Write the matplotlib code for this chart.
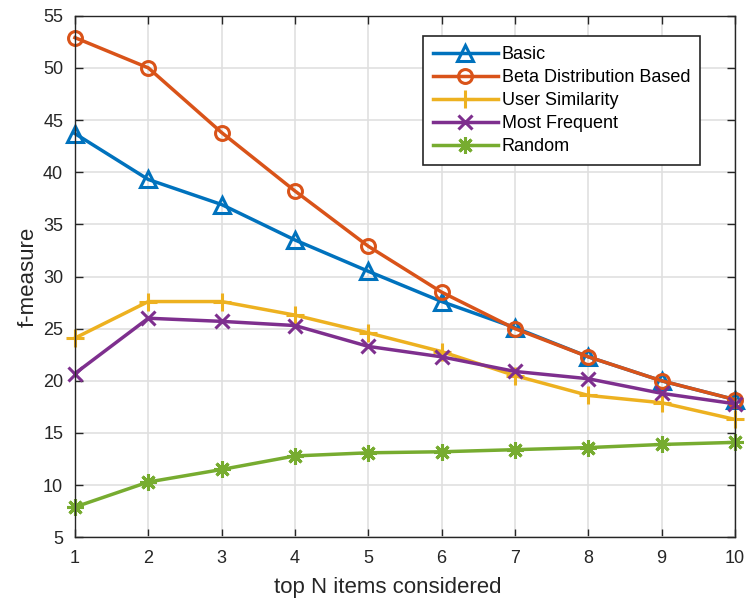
import matplotlib.pyplot as plt

plt.rcParams['font.family'] = ['Liberation Sans', 'DejaVu Sans']

top_n = [1, 2, 3, 4, 5, 6, 7, 8, 9, 10]
basic = [43.7, 39.3, 36.9, 33.5, 30.5, 27.6, 25.1, 22.3, 20.0, 18.2]
beta = [52.9, 50.0, 43.8, 38.2, 32.9, 28.5, 25.0, 22.3, 20.0, 18.2]
user_sim = [24.1, 27.6, 27.6, 26.3, 24.6, 22.8, 20.5, 18.6, 17.9, 16.3]
most_freq = [20.7, 26.0, 25.7, 25.3, 23.3, 22.3, 20.9, 20.2, 18.8, 17.8]
random_rec = [7.9, 10.3, 11.5, 12.8, 13.1, 13.2, 13.4, 13.6, 13.9, 14.1]

series = [
    ("Basic", basic, "#0072BD", "^", 11),
    ("Beta Distribution Based", beta, "#D95319", "o", 10),
    ("User Similarity", user_sim, "#EDB120", "+", 13),
    ("Most Frequent", most_freq, "#7E2F8E", "x", 10),
    ("Random", random_rec, "#77AC30", (8, 2, 0), 12),
]

fig = plt.figure(figsize=(7.46, 6.0), dpi=100)
ax = fig.add_axes([0.1005, 0.1045, 0.8847, 0.8693])

for name, vals, col, mk, ms in series:
    ax.plot(top_n, vals, color=col, marker=mk, markersize=ms, linewidth=2.5,
            markerfacecolor="none", markeredgecolor=col, markeredgewidth=2.2,
            label=name, clip_on=False)

ax.set_xlim(1, 10)
ax.set_ylim(5, 55)
ax.set_xticks(top_n)
ax.set_yticks(range(5, 56, 5))
ax.grid(True, color="#e0e0e0", linewidth=1.2)
ax.set_axisbelow(True)
ax.tick_params(direction="in", top=True, right=True, labelsize=13,
               length=6, width=1.0, colors="#262626")
ax.tick_params(axis="x", pad=9.5)
ax.tick_params(axis="y", pad=8.5)
for s in ax.spines.values():
    s.set_color("#262626")
    s.set_linewidth(1.0)

ax.set_xlabel("top N items considered", fontsize=16, color="#262626")
ax.xaxis.set_label_coords(0.474, -0.076)
ax.set_ylabel("f-measure", fontsize=16, color="#262626")
ax.yaxis.set_label_coords(-0.055, 0.5)

leg = ax.legend(loc="upper right", bbox_to_anchor=(0.947, 0.961), fontsize=13,
                fancybox=False, framealpha=1, edgecolor="#262626",
                handlelength=3.6, borderpad=0.55, labelspacing=0.33,
                handletextpad=0.2, borderaxespad=0)
leg.get_frame().set_linewidth(1.2)

fig.savefig("out.png", dpi=100)
